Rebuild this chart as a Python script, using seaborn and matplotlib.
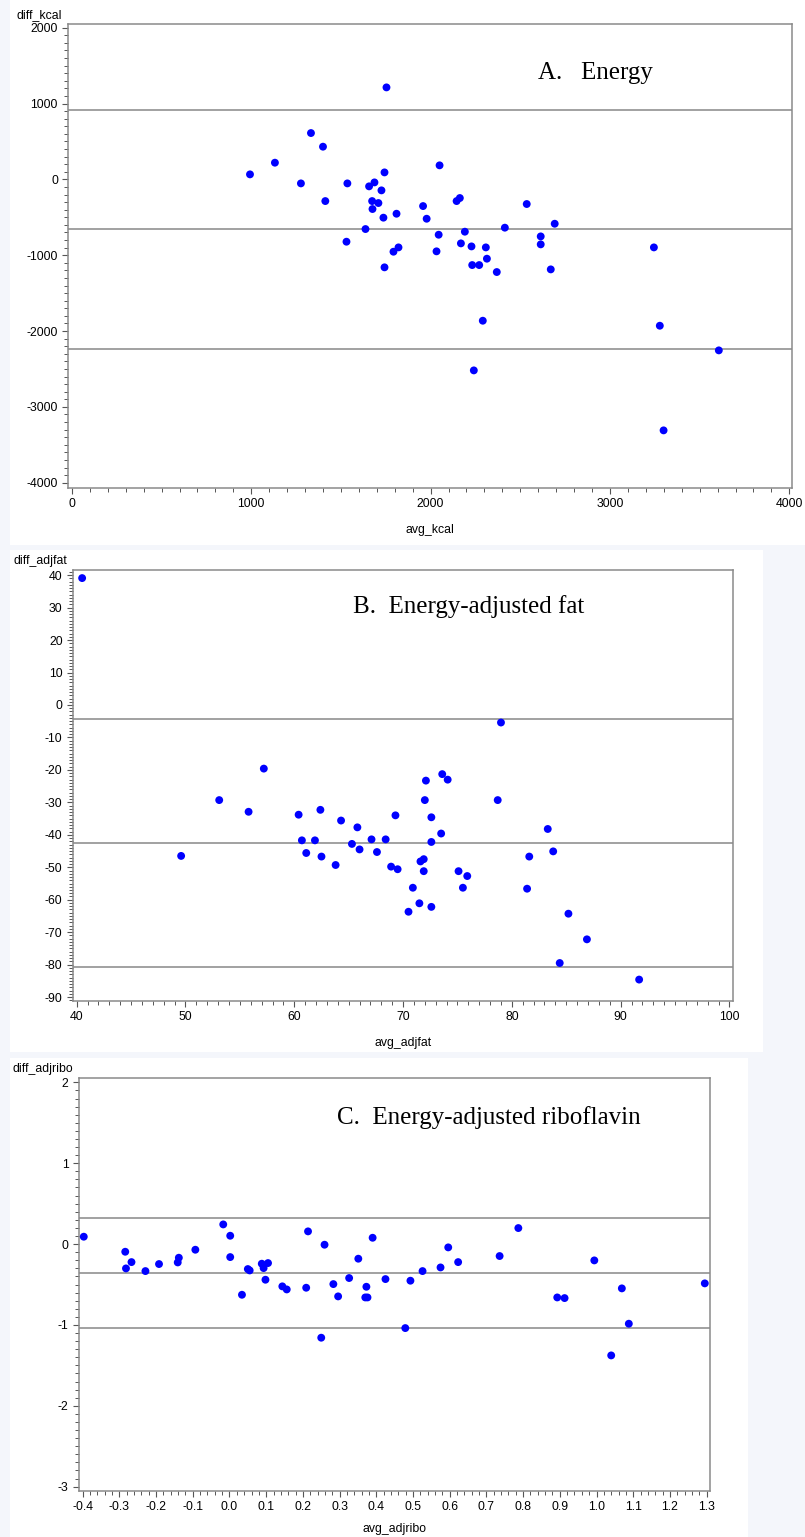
#!/usr/bin/env python3
"""Bland-Altman style difference plots for energy, adjusted fat and riboflavin."""

import matplotlib

matplotlib.use("Agg")

import matplotlib.pyplot as plt
import seaborn as sns
from matplotlib.patches import Rectangle
from matplotlib.ticker import MultipleLocator

# Panel A: energy (kcal)
a_avg = [993, 1132, 1277, 1333, 1400, 1413, 1536, 1531, 1637, 1657, 1687, 1674,
         1709, 1676, 1726, 1743, 1754, 1737, 1810, 1743, 1793, 1821, 1958, 2050,
         1978, 2045, 2033, 2145, 2163, 2191, 2169, 2228, 2232, 2271, 2308, 2314,
         2369, 2414, 2291, 2241, 2536, 2614, 2614, 2692, 2670, 3245, 3278, 3299,
         3607]
a_diff = [66, 220, -53, 611, 431, -286, -53, -822, -655, -92, -40, -286,
          -312, -391, -145, 92, 1213, -505, -453, -1160, -954, -897, -352, 185,
          -519, -730, -949, -286, -246, -690, -844, -884, -1130, -1130, -897, -1046,
          -1222, -637, -1864, -2519, -325, -752, -857, -585, -1187, -897, -1930, -3310,
          -2255]
a_lines = [913, -660, -2233]

# Panel B: energy-adjusted fat
b_avg = [40.5, 49.6, 53.1, 55.8, 57.2, 60.4, 60.7, 61.1, 61.9, 62.4, 62.5, 63.8,
         64.3, 65.3, 65.8, 66.0, 67.1, 67.6, 68.4, 68.9, 69.3, 69.5, 72.1, 72.0,
         73.6, 74.1, 72.6, 73.5, 72.6, 71.6, 71.9, 71.9, 70.9, 71.5, 72.6, 70.5,
         75.1, 75.9, 75.5, 79.0, 78.7, 81.6, 81.4, 83.3, 83.8, 85.2, 86.9, 84.4,
         91.7]
b_diff = [39.1, -46.5, -29.3, -32.9, -19.6, -33.8, -41.7, -45.6, -41.7, -32.3, -46.7, -49.3,
          -35.6, -42.8, -37.7, -44.5, -41.4, -45.3, -41.4, -49.8, -34.0, -50.6, -23.3, -29.3,
          -21.3, -23.0, -34.6, -39.6, -42.2, -48.2, -47.5, -51.2, -56.3, -61.1, -62.2, -63.7,
          -51.2, -52.7, -56.3, -5.4, -29.3, -46.7, -56.6, -38.2, -45.1, -64.3, -72.2, -79.5,
          -84.6]
b_lines = [-4.2, -42.5, -80.8]

# Panel C: energy-adjusted riboflavin
c_avg = [-0.397, -0.284, -0.282, -0.267, -0.229, -0.192, -0.141, -0.138, -0.093, -0.017,
         0.002, 0.002, 0.034, 0.050, 0.055, 0.088, 0.093, 0.105, 0.098, 0.144,
         0.156, 0.209, 0.214, 0.250, 0.259, 0.283, 0.296, 0.326, 0.351, 0.373,
         0.370, 0.376, 0.390, 0.425, 0.493, 0.479, 0.526, 0.575, 0.596, 0.623,
         0.736, 0.787, 0.893, 0.913, 0.994, 1.040, 1.069, 1.088, 1.295]
c_diff = [0.091, -0.095, -0.301, -0.223, -0.334, -0.247, -0.227, -0.169, -0.070, 0.243,
          0.103, -0.161, -0.627, -0.309, -0.326, -0.243, -0.297, -0.235, -0.441, -0.523,
          -0.561, -0.540, 0.157, -1.158, -0.008, -0.495, -0.647, -0.420, -0.181, -0.528,
          -0.660, -0.660, 0.078, -0.433, -0.453, -1.039, -0.334, -0.289, -0.041, -0.223,
          -0.148, 0.198, -0.660, -0.668, -0.202, -1.377, -0.548, -0.985, -0.486]
c_lines = [0.318, -0.36, -1.038]

W, H = 805, 1537
FRAME = "#8a8a8a"
LINE = "#9a9a9a"
DOT = "#0000ff"
BACK = "#f4f6fb"

sns.set_theme(style="white")
plt.rcParams["font.family"] = ["Liberation Sans", "DejaVu Sans"]


def px_axes(fig, left, top, right, bottom):
    ax = fig.add_axes([left / W, 1 - bottom / H, (right - left) / W, (bottom - top) / H])
    ax.set_zorder(2)
    return ax


def draw_panel(ax, avg, diff, lines, xlim, ylim, xmaj, xmin, ymaj, ymin,
               xlabel, ylabel, title, title_x, title_y, xfmt=None, labelpad=10):
    for val in lines:
        ax.axhline(val, color=LINE, linewidth=1.3, zorder=1)
    sns.scatterplot(x=avg, y=diff, ax=ax, color=DOT, s=32, linewidth=0,
                    edgecolor="none", zorder=3)
    ax.set_xlim(*xlim)
    ax.set_ylim(*ylim)
    ax.xaxis.set_major_locator(MultipleLocator(xmaj))
    ax.xaxis.set_minor_locator(MultipleLocator(xmin))
    ax.yaxis.set_major_locator(MultipleLocator(ymaj))
    ax.yaxis.set_minor_locator(MultipleLocator(ymin))
    if xfmt is not None:
        ax.xaxis.set_major_formatter(xfmt)
    ax.yaxis.set_major_formatter(plt.FuncFormatter(lambda v, _: f"{v:g}"))
    for side in ax.spines.values():
        side.set_color(FRAME)
        side.set_linewidth(1.1)
    ax.tick_params(which="major", direction="out", length=4.5, width=0.8,
                   color="#555555", labelsize=8.8, pad=3, labelcolor="black",
                   bottom=True, left=True)
    ax.tick_params(which="minor", direction="out", length=2.8, width=0.7,
                   color="#555555", bottom=True, left=True)
    ax.set_xlabel(xlabel, fontsize=8.8, labelpad=labelpad, color="black")
    ax.set_ylabel("")
    ax.annotate(ylabel, xy=(0, 1), xycoords="axes fraction", xytext=(-6, 9),
                textcoords="offset pixels", ha="right", va="center",
                fontsize=8.8, color="black")
    ax.text(title_x, title_y, title, transform=ax.transAxes, ha="left",
            va="center", fontsize=18, family=["Liberation Serif", "DejaVu Serif"],
            color="black")
    ax.set_facecolor("white")


fig = plt.figure(figsize=(W / 100, H / 100), dpi=100)
fig.patch.set_facecolor(BACK)
for x0, y0, x1, y1 in [(10, 0, 805, 545), (10, 550, 763, 1052), (10, 1058, 748, 1537)]:
    fig.patches.append(Rectangle((x0 / W, 1 - y1 / H), (x1 - x0) / W, (y1 - y0) / H,
                                 transform=fig.transFigure, facecolor="white",
                                 edgecolor="none", zorder=-5))

ax_a = px_axes(fig, 68.3, 24, 792, 487.7)
draw_panel(ax_a, a_avg, a_diff, a_lines, (-20, 4015), (-4066, 2049),
           1000, 100, 1000, 100, "avg_kcal", "diff_kcal", "A.   Energy", 0.649, 0.895)

ax_b = px_axes(fig, 73, 570.3, 732.7, 1001)
draw_panel(ax_b, b_avg, b_diff, b_lines, (39.66, 100.3), (-91.2, 41.5),
           10, 1, 10, 1, "avg_adjfat", "diff_adjfat", "B.  Energy-adjusted fat",
           0.424, 0.915)

ax_c = px_axes(fig, 79, 1078.3, 710.3, 1490.7)
draw_panel(ax_c, c_avg, c_diff, c_lines, (-0.41, 1.31), (-3.05, 2.05),
           0.1, 0.02, 1, 0.1, "avg_adjribo", "diff_adjribo",
           "C.  Energy-adjusted riboflavin", 0.409, 0.905,
           xfmt=plt.FuncFormatter(lambda v, _: f"{v:.1f}"), labelpad=7)

fig.savefig("out.png", dpi=100, facecolor=fig.get_facecolor())
